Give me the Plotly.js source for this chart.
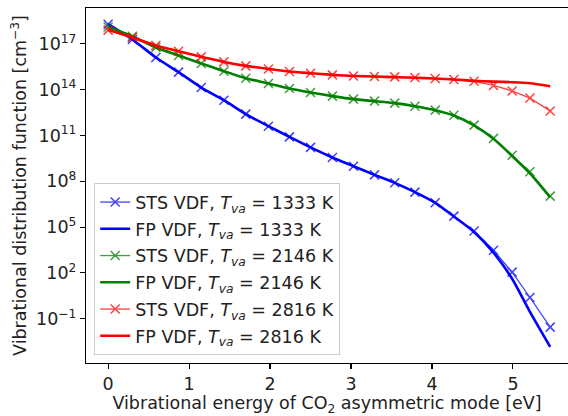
<!DOCTYPE html>
<html>
<head>
<meta charset="utf-8">
<script src="https://cdn.plot.ly/plotly-3.0.1.min.js"></script>
<style>html,body{margin:0;padding:0;background:#fff;overflow:hidden}</style>
</head>
<body>
<div id="chart" style="width:568px;height:416px"></div>
<script>
// Vibrational level energies (eV)
const energy = [0, 0.30, 0.59, 0.87, 1.15, 1.43, 1.70, 1.98, 2.24, 2.50, 2.77, 3.03, 3.29, 3.54, 3.79, 4.04, 4.27, 4.52, 4.76, 4.99, 5.21, 5.46];

// log10 of VDF values [cm^-3]
const sts1333 = [18.29, 17.29, 16.11, 15.15, 14.14, 13.31, 12.40, 11.61, 10.91, 10.22, 9.56, 8.99, 8.42, 7.90, 7.29, 6.59, 5.72, 4.75, 3.49, 2.05, 0.39, -1.55];
const fp1333  = [18.29, 17.29, 16.11, 15.15, 14.14, 13.31, 12.40, 11.61, 10.91, 10.22, 9.56, 8.99, 8.42, 7.90, 7.29, 6.59, 5.70, 4.68, 3.33, 1.62, -0.55, -2.84];
const sts2146 = [18.11, 17.50, 16.76, 16.24, 15.72, 15.21, 14.75, 14.41, 14.08, 13.82, 13.58, 13.38, 13.25, 13.12, 12.92, 12.66, 12.33, 11.68, 10.81, 9.71, 8.62, 7.03];
const fp2146  = [18.11, 17.50, 16.76, 16.24, 15.72, 15.21, 14.75, 14.41, 14.08, 13.82, 13.58, 13.38, 13.25, 13.12, 12.92, 12.66, 12.31, 11.66, 10.78, 9.66, 8.52, 6.95];
const sts2816 = [17.90, 17.42, 16.90, 16.52, 16.15, 15.82, 15.56, 15.36, 15.19, 15.08, 14.97, 14.90, 14.86, 14.84, 14.80, 14.73, 14.67, 14.55, 14.28, 13.92, 13.45, 12.61];
const fp2816  = [17.92, 17.42, 16.90, 16.52, 16.15, 15.82, 15.56, 15.36, 15.19, 15.08, 14.97, 14.90, 14.86, 14.82, 14.78, 14.73, 14.67, 14.58, 14.53, 14.49, 14.42, 14.23];

const seriesNames = ['STS VDF, <i>T<sub>va</sub></i> = 1333 K', 'FP VDF, <i>T<sub>va</sub></i> = 1333 K',
                     'STS VDF, <i>T<sub>va</sub></i> = 2146 K', 'FP VDF, <i>T<sub>va</sub></i> = 2146 K',
                     'STS VDF, <i>T<sub>va</sub></i> = 2816 K', 'FP VDF, <i>T<sub>va</sub></i> = 2816 K'];
const tickExp = [-1, 2, 5, 8, 11, 14, 17];
const tickLabels = ['10<sup>−1</sup>', '10<sup>2</sup>', '10<sup>5</sup>', '10<sup>8</sup>', '10<sup>11</sup>', '10<sup>14</sup>', '10<sup>17</sup>'];

const pow10 = a => a.map(v => Math.pow(10, v));
const colors = ['#0000ff', '#008000', '#ff0000'];
const stsData = [sts1333, sts2146, sts2816];
const fpData = [fp1333, fp2146, fp2816];

const traces = [];
for (let k = 0; k < 3; k++) {
  traces.push({
    x: energy, y: pow10(stsData[k]), type: 'scatter', mode: 'lines+markers',
    name: seriesNames[2*k], legendgroup: 'g' + (2*k),
    opacity: 0.75,
    line: {color: colors[k], width: 1.3},
    marker: {symbol: 'x-thin-open', size: 9, line: {color: colors[k], width: 1.5}}
  });
  traces.push({
    x: energy, y: pow10(fpData[k]), type: 'scatter', mode: 'lines',
    name: seriesNames[2*k+1], legendgroup: 'g' + (2*k+1),
    line: {color: colors[k], width: 2.6, shape: 'spline', smoothing: 0.6}
  });
}

const fontFam = 'DejaVu Sans, sans-serif';
const fs = 17.5;
const layout = {
  width: 568, height: 416,
  margin: {l: 86, r: 0, t: 8, b: 53},
  paper_bgcolor: '#fff', plot_bgcolor: '#fff',
  font: {family: fontFam, size: fs, color: '#222'},
  showlegend: true,
  legend: {
    x: 0.017, y: 0.022, xanchor: 'left', yanchor: 'bottom',
    bgcolor: 'rgba(255,255,255,0.85)', bordercolor: '#cccccc', borderwidth: 1,
    font: {family: fontFam, size: fs, color: '#222'},
    traceorder: 'grouped', tracegroupgap: 1
  },
  xaxis: {
    range: [-0.273, 5.68], dtick: 1, tick0: 0,
    showgrid: false, zeroline: false,
    showline: true, linecolor: '#000', linewidth: 1.1, mirror: true,
    ticks: 'outside', ticklen: 5, tickwidth: 1.1, tickcolor: '#000',
    tickfont: {size: fs},
    title: {text: 'Vibrational energy of CO<sub>2</sub> asymmetric mode [eV]', font: {size: fs}, standoff: 4}
  },
  yaxis: {
    type: 'log', range: [-3.9, 19.35],
    tickmode: 'array', tickvals: tickExp.map(e => Math.pow(10, e)), ticktext: tickLabels,
    showgrid: false, zeroline: false,
    showline: true, linecolor: '#000', linewidth: 1.1, mirror: false,
    ticks: 'outside', ticklen: 5, tickwidth: 1.1, tickcolor: '#000',
    tickfont: {size: fs},
    title: {text: 'Vibrational distribution function [cm<sup>−3</sup>]', font: {size: fs}, standoff: 4}
  }
};

Plotly.newPlot('chart', traces, layout, {displayModeBar: false, staticPlot: true});
</script>
</body>
</html>
